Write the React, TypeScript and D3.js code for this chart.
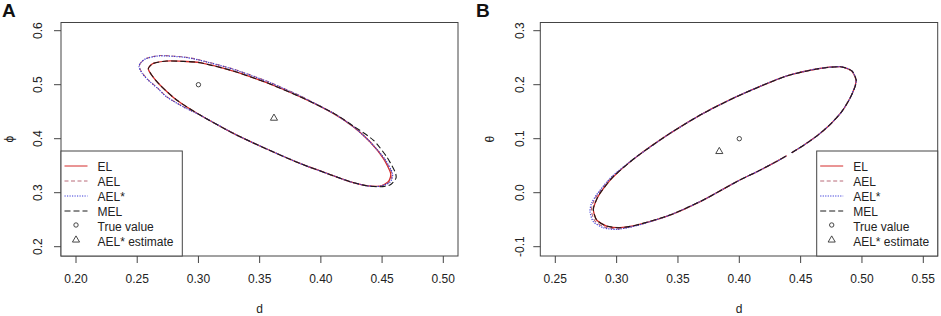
import React from "react";
import * as d3 from "d3";

type P = [number, number];

// ---------- Panel A data (d, phi) ----------
const aEL: P[] = [
  [0.2591, 0.530], [0.2632, 0.5395], [0.2740, 0.5438], [0.2876, 0.5432], [0.3013, 0.5407],
  [0.3285, 0.5253], [0.3557, 0.5037], [0.3829, 0.4778], [0.4101, 0.4469], [0.4265, 0.4222],
  [0.4401, 0.3944], [0.4510, 0.3636], [0.4570, 0.3358], [0.4551, 0.3204], [0.4482, 0.3123],
  [0.4374, 0.3130], [0.4238, 0.3204], [0.4101, 0.3315], [0.3829, 0.3543], [0.3557, 0.3809],
  [0.3285, 0.4099], [0.3013, 0.4438], [0.2822, 0.4716], [0.2686, 0.4994], [0.2618, 0.5179],
];
const aAEL: P[] = [
  [0.2517, 0.5333], [0.2530, 0.5410], [0.2577, 0.5488], [0.2686, 0.5540], [0.2876, 0.5515],
  [0.3013, 0.5457], [0.3285, 0.5290], [0.3557, 0.5068], [0.3829, 0.4796], [0.4101, 0.4475],
  [0.4265, 0.4225], [0.4401, 0.3944], [0.4515, 0.3636], [0.4580, 0.3358], [0.4560, 0.3200],
  [0.4482, 0.3120], [0.4374, 0.3128], [0.4238, 0.3204], [0.4101, 0.3315], [0.3829, 0.3543],
  [0.3557, 0.3809], [0.3285, 0.4099], [0.3013, 0.4438], [0.2876, 0.4593], [0.2740, 0.4778],
  [0.2670, 0.4931], [0.2590, 0.5090], [0.2540, 0.5220],
];
const aAELs: P[] = [
  [0.2515, 0.5330], [0.2528, 0.5405], [0.2575, 0.5485], [0.2686, 0.5535], [0.2876, 0.5510],
  [0.3013, 0.5452], [0.3285, 0.5285], [0.3557, 0.5062], [0.3829, 0.4790], [0.4101, 0.4472],
  [0.4265, 0.4224], [0.4401, 0.3944], [0.4518, 0.3636], [0.4585, 0.3358], [0.4565, 0.3195],
  [0.4482, 0.3118], [0.4374, 0.3128], [0.4238, 0.3204], [0.4101, 0.3315], [0.3829, 0.3543],
  [0.3557, 0.3809], [0.3285, 0.4099], [0.3013, 0.4438], [0.2876, 0.4590], [0.2740, 0.4775],
  [0.2668, 0.4930], [0.2588, 0.5088], [0.2538, 0.5218],
];
const aMEL: P[] = [
  [0.2591, 0.530], [0.2632, 0.5395], [0.2740, 0.5438], [0.2876, 0.5432], [0.3013, 0.5407],
  [0.3285, 0.5253], [0.3557, 0.5037], [0.3829, 0.4778], [0.4101, 0.4475], [0.4265, 0.4235],
  [0.4428, 0.3975], [0.4537, 0.3667], [0.4605, 0.3389], [0.4613, 0.3265], [0.4564, 0.3142],
  [0.4482, 0.3111], [0.4374, 0.3128], [0.4238, 0.3204], [0.4101, 0.3315], [0.3829, 0.3543],
  [0.3557, 0.3809], [0.3285, 0.4099], [0.3013, 0.4438], [0.2822, 0.4716], [0.2686, 0.4994],
  [0.2618, 0.5179],
];
const aTrue: P = [0.30, 0.50];
const aEst: P = [0.3617, 0.4395];
const aXTicks = [0.20, 0.25, 0.30, 0.35, 0.40, 0.45, 0.50];
const aYTicks = [0.2, 0.3, 0.4, 0.5, 0.6];

// ---------- Panel B data (d, theta) ----------
const bEL: P[] = [
  [0.4427, 0.0740], [0.4522, 0.0875], [0.4631, 0.1048], [0.4739, 0.1260], [0.4835, 0.1500],
  [0.4902, 0.1748], [0.4940, 0.1950], [0.4951, 0.2087], [0.4916, 0.2254], [0.4821, 0.2333],
  [0.4631, 0.2291], [0.4413, 0.2180], [0.4250, 0.2044], [0.3978, 0.1778], [0.3706, 0.1469],
  [0.3435, 0.1099], [0.3163, 0.0667], [0.2973, 0.0296], [0.2864, -0.0012], [0.2823, -0.0198],
  [0.2810, -0.0321], [0.2837, -0.0506], [0.2918, -0.0617], [0.3027, -0.0648], [0.3163, -0.0599],
  [0.3435, -0.0414], [0.3706, -0.0136], [0.3978, 0.0204], [0.4150, 0.0395], [0.4305, 0.0580],
  [0.4386, 0.0685],
];
const bAEL: P[] = [
  [0.4427, 0.0740], [0.4522, 0.0875], [0.4631, 0.1048], [0.4739, 0.1260], [0.4835, 0.1500],
  [0.4902, 0.1748], [0.4940, 0.1950], [0.4951, 0.2087], [0.4916, 0.2254], [0.4821, 0.2333],
  [0.4631, 0.2291], [0.4413, 0.2180], [0.4250, 0.2044], [0.3978, 0.1778], [0.3706, 0.1469],
  [0.3435, 0.1099], [0.3163, 0.0667], [0.2965, 0.0296], [0.2852, -0.0012], [0.2805, -0.0198],
  [0.2795, -0.0340], [0.2822, -0.0520], [0.2900, -0.0635], [0.3010, -0.0670], [0.3163, -0.0605],
  [0.3435, -0.0414], [0.3706, -0.0136], [0.3978, 0.0204], [0.4150, 0.0395], [0.4305, 0.0580],
  [0.4386, 0.0685],
];
const bAELs: P[] = [
  [0.4427, 0.0740], [0.4522, 0.0875], [0.4631, 0.1048], [0.4739, 0.1260], [0.4835, 0.1500],
  [0.4902, 0.1748], [0.4940, 0.1950], [0.4953, 0.2087], [0.4918, 0.2256], [0.4821, 0.2335],
  [0.4631, 0.2293], [0.4413, 0.2182], [0.4250, 0.2046], [0.3978, 0.1780], [0.3706, 0.1469],
  [0.3435, 0.1099], [0.3163, 0.0667], [0.2960, 0.0296], [0.2845, -0.0012], [0.2795, -0.0198],
  [0.2783, -0.0352], [0.2810, -0.0537], [0.2891, -0.0648], [0.3000, -0.0679], [0.3163, -0.0610],
  [0.3435, -0.0414], [0.3706, -0.0136], [0.3978, 0.0204], [0.4150, 0.0395], [0.4305, 0.0580],
  [0.4386, 0.0685],
];
const bMEL: P[] = [
  [0.4427, 0.0740], [0.4522, 0.0875], [0.4631, 0.1048], [0.4739, 0.1260], [0.4835, 0.1500],
  [0.4902, 0.1748], [0.4942, 0.1950], [0.4953, 0.2087], [0.4918, 0.2255], [0.4821, 0.2334],
  [0.4631, 0.2291], [0.4413, 0.2180], [0.4250, 0.2044], [0.3978, 0.1778], [0.3706, 0.1469],
  [0.3435, 0.1099], [0.3163, 0.0667], [0.2973, 0.0296], [0.2864, -0.0012], [0.2823, -0.0198],
  [0.2810, -0.0321], [0.2837, -0.0506], [0.2918, -0.0617], [0.3027, -0.0648], [0.3163, -0.0599],
  [0.3435, -0.0414], [0.3706, -0.0136], [0.3978, 0.0204], [0.4150, 0.0395], [0.4305, 0.0580],
  [0.4386, 0.0685],
];
const bTrue: P = [0.40, 0.10];
const bEst: P = [0.3837, 0.0778];
const bXTicks = [0.25, 0.30, 0.35, 0.40, 0.45, 0.50, 0.55];
const bYTicks = [-0.1, 0.0, 0.1, 0.2, 0.3];

const legendLabels = ["EL", "AEL", "AEL*", "MEL", "True value", "AEL* estimate"];

const FONT = "'Liberation Sans', Arial, sans-serif";
const TXT = "#222";

const styles = [
  { color: "#d42a2a", dash: "none", width: 1.3 },
  { color: "#b86a78", dash: "4,2.5", width: 1.1 },
  { color: "#3838d8", dash: "1.2,1.3", width: 1.2 },
  { color: "#1a1a1a", dash: "6,3", width: 1.1 },
];

interface PanelProps {
  letter: string;
  letterX: number;
  box: [number, number, number, number];
  xDom: [number, number];
  xRange: [number, number];
  yDom: [number, number];
  yRange: [number, number];
  xTicks: number[];
  yTicks: number[];
  yLabel: string;
  yLabelX: number;
  yTickX: number;
  series: P[][];
  closed: boolean;
  truth: P;
  est: P;
  legendBox: [number, number, number, number];
  fmtY: (v: number) => string;
}

function Panel(p: PanelProps) {
  const x = d3.scaleLinear().domain(p.xDom).range(p.xRange);
  const y = d3.scaleLinear().domain(p.yDom).range(p.yRange);
  const line = d3
    .line<P>()
    .x((d) => x(d[0]))
    .y((d) => y(d[1]))
    .curve(p.closed ? d3.curveCardinalClosed.tension(0.3) : d3.curveCardinal.tension(0.3));
  const [bx0, by0, bx1, by1] = p.box;
  const [lx0, ly0, lx1, ly1] = p.legendBox;
  const tri = d3.symbol().type(d3.symbolTriangle).size(22)();
  const legY = (i: number) => ly0 + 15 + i * 15;
  return (
    <g>
      <text x={p.letterX} y={17} fontFamily={FONT} fontWeight="bold" fontSize={19} fill="#111">
        {p.letter}
      </text>
      {p.series.map((s, i) => (
        <path
          key={i}
          d={line(s) || ""}
          fill="none"
          stroke={styles[i].color}
          strokeWidth={styles[i].width}
          strokeDasharray={styles[i].dash}
        />
      ))}
      <circle cx={x(p.truth[0])} cy={y(p.truth[1])} r={2.2} fill="none" stroke="#333" strokeWidth={0.9} />
      <path d={tri || ""} transform={`translate(${x(p.est[0])},${y(p.est[1]) + 0.8})`} fill="none" stroke="#333" strokeWidth={0.9} />
      <rect x={bx0} y={by0} width={bx1 - bx0} height={by1 - by0} fill="none" stroke="#444" strokeWidth={1} />
      {p.xTicks.map((t) => (
        <g key={"x" + t}>
          <line x1={x(t)} x2={x(t)} y1={by1} y2={by1 + 7} stroke="#444" />
          <text x={x(t)} y={283} textAnchor="middle" fontFamily={FONT} fontSize={12} fill={TXT}>
            {t.toFixed(2)}
          </text>
        </g>
      ))}
      {p.yTicks.map((t) => (
        <g key={"y" + t}>
          <line x1={bx0 - 7} x2={bx0} y1={y(t)} y2={y(t)} stroke="#444" />
          <text
            transform={`translate(${p.yTickX},${y(t)}) rotate(-90)`}
            textAnchor="middle"
            fontFamily={FONT}
            fontSize={12}
            fill={TXT}
          >
            {p.fmtY(t)}
          </text>
        </g>
      ))}
      <text x={(bx0 + bx1) / 2} y={313} textAnchor="middle" fontFamily={FONT} fontSize={12} fill={TXT}>
        d
      </text>
      <text
        transform={`translate(${p.yLabelX},${(by0 + by1) / 2}) rotate(-90)`}
        textAnchor="middle"
        fontFamily={FONT}
        fontSize={12}
        fill={TXT}
      >
        {p.yLabel}
      </text>
      <rect x={lx0} y={ly0} width={lx1 - lx0} height={ly1 - ly0} fill="#fff" stroke="#444" strokeWidth={1} />
      {legendLabels.map((lab, i) => {
        const yy = legY(i);
        return (
          <g key={lab}>
            {i < 4 && (
              <line
                x1={lx0 + 3.5}
                x2={lx0 + 26.5}
                y1={yy}
                y2={yy}
                stroke={styles[i].color}
                strokeWidth={1}
                strokeDasharray={styles[i].dash}
              />
            )}
            {i === 4 && <circle cx={lx0 + 15} cy={yy - 1} r={2.2} fill="none" stroke="#333" strokeWidth={0.9} />}
            {i === 5 && (
              <path d={tri || ""} transform={`translate(${lx0 + 15},${yy - 1})`} fill="none" stroke="#333" strokeWidth={0.9} />
            )}
            <text x={lx0 + 36.5} y={yy + 4.5} fontFamily={FONT} fontSize={12} fill={TXT}>
              {lab}
            </text>
          </g>
        );
      })}
    </g>
  );
}

export default function App() {
  return (
    <svg
      width={941}
      height={316}
      style={{ position: "absolute", left: 0, top: 0, background: "#fff" }}
    >
      <rect width={941} height={316} fill="#fff" />
      <Panel
        letter="A"
        letterX={2}
        box={[61, 22.5, 458, 256]}
        xDom={[0.2, 0.5]}
        xRange={[76, 443.3]}
        yDom={[0.2, 0.6]}
        yRange={[246.7, 30.7]}
        xTicks={aXTicks}
        yTicks={aYTicks}
        yLabel="ϕ"
        yLabelX={13}
        yTickX={42}
        series={[aEL, aAEL, aAELs, aMEL]}
        closed={true}
        truth={aTrue}
        est={aEst}
        legendBox={[61, 151, 182.3, 256]}
        fmtY={(v) => v.toFixed(1)}
      />
      <Panel
        letter="B"
        letterX={476}
        box={[540.3, 22.5, 937.7, 256]}
        xDom={[0.25, 0.55]}
        xRange={[555.3, 923.3]}
        yDom={[-0.1, 0.3]}
        yRange={[246.7, 30.7]}
        xTicks={bXTicks}
        yTicks={bYTicks}
        yLabel="θ"
        yLabelX={494}
        yTickX={524}
        series={[bEL, bAEL, bAELs, bMEL]}
        closed={false}
        truth={bTrue}
        est={bEst}
        legendBox={[816.7, 151, 937.7, 256]}
        fmtY={(v) => (Math.abs(v) < 1e-9 ? "0.0" : v < 0 ? "-" + Math.abs(v).toFixed(1) : v.toFixed(1))}
      />
    </svg>
  );
}
